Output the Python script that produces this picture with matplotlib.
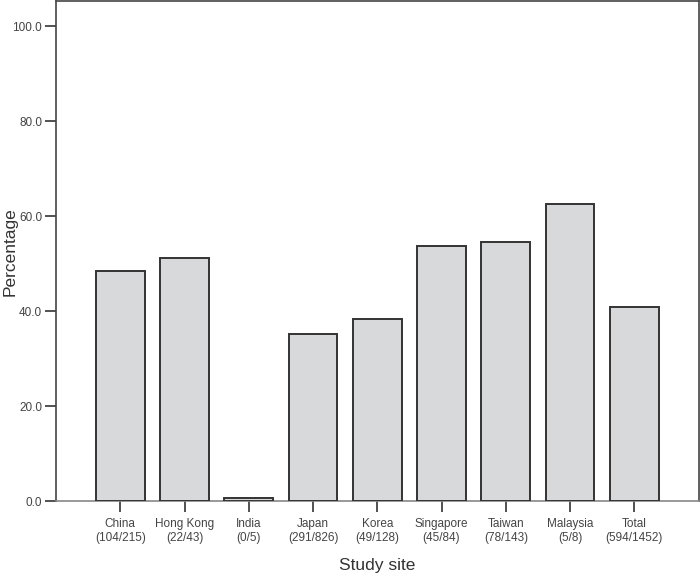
import matplotlib
matplotlib.use("Agg")
import matplotlib.pyplot as plt

plt.rcParams['font.family'] = ['Liberation Sans', 'DejaVu Sans']

# study sites and percentages
sites = ["China", "Hong Kong", "India", "Japan", "Korea",
         "Singapore", "Taiwan", "Malaysia", "Total"]
counts = ["(104/215)", "(22/43)", "(0/5)", "(291/826)", "(49/128)",
          "(45/84)", "(78/143)", "(5/8)", "(594/1452)"]
percent = [48.4, 51.2, 0.6, 35.2, 38.3, 53.6, 54.5, 62.5, 40.9]
yticks = [0, 20, 40, 60, 80, 100]

fig = plt.figure(figsize=(7, 5.77), dpi=100)
ax = fig.add_axes([0.08, 0.1317, 0.918, 0.866])

xs = range(len(sites))
ax.bar(xs, percent, width=0.76, color="#d8d9db", edgecolor="#333333",
       linewidth=1.4, zorder=3)

ax.set_xlim(-1, 9)
ax.set_ylim(0, 105.2)
ax.set_yticks(yticks)
ax.set_yticklabels(["%.1f" % v for v in yticks])
ax.set_xticks(list(xs))
ax.set_xticklabels([s + "\n" + c for s, c in zip(sites, counts)],
                   linespacing=1.25)

ax.tick_params(axis="both", direction="out", length=8, width=1.2,
               colors="#333333", labelsize=8.5, labelcolor="#444444")
ax.tick_params(axis="y", pad=2)
ax.tick_params(axis="x", pad=4)

for side in ["left", "top", "right"]:
    ax.spines[side].set_color("#444444")
    ax.spines[side].set_linewidth(1.2)
ax.spines["bottom"].set_color("#888888")
ax.spines["bottom"].set_linewidth(1.2)

ax.set_xlabel("Study site", fontsize=12.5, color="#333333", labelpad=10)
ax.set_ylabel("Percentage", fontsize=12.5, color="#333333")
ax.yaxis.set_label_coords(-0.06, 0.5)

fig.savefig("out.png", dpi=100)
